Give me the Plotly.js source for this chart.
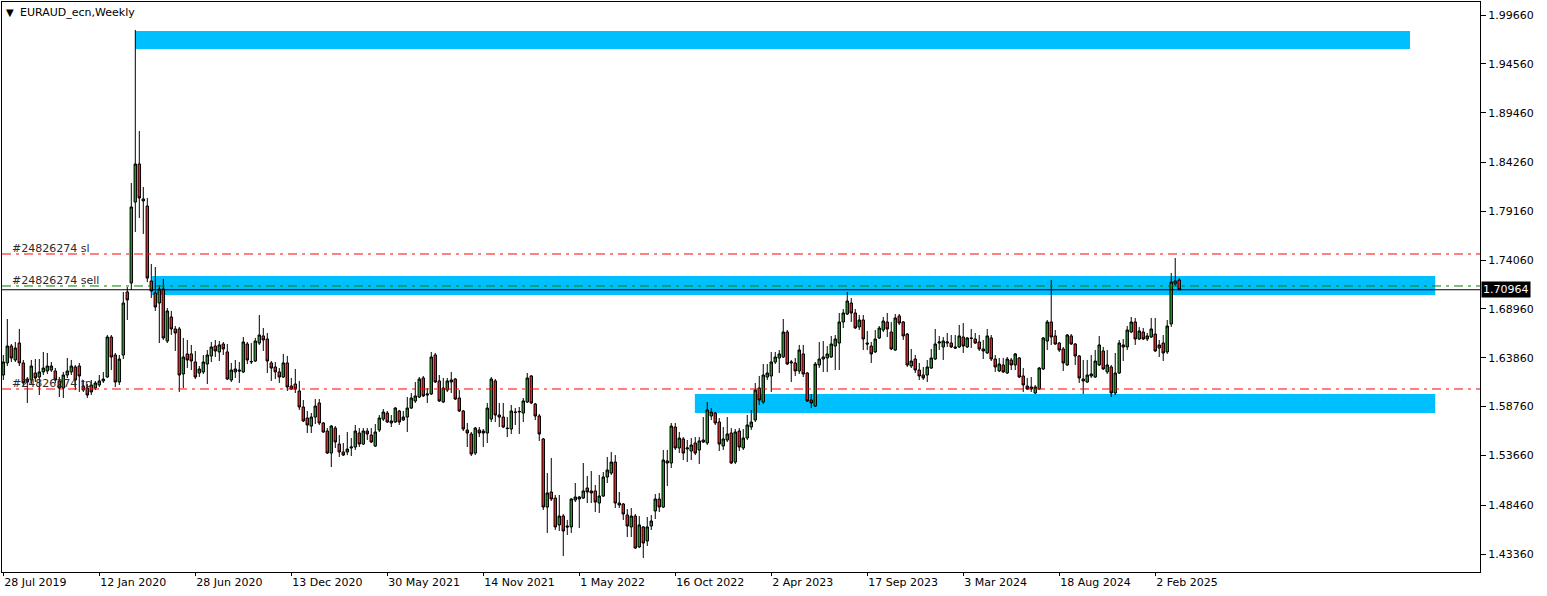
<!DOCTYPE html>
<html>
<head>
<meta charset="utf-8">
<script src="https://cdn.plot.ly/plotly-3.0.1.min.js"></script>
<style>
  html, body { margin: 0; padding: 0; background: #ffffff; }
  #chart { width: 1547px; height: 596px; }
</style>
</head>
<body>
<div id="chart"></div>
<script>
// ---- Data: EURAUD_ecn Weekly, one entry per week starting 28 Jul 2019 ----
const open = [
1.6206,1.6332,1.6509,1.6363,1.6540,1.6332,1.6164,1.6154,1.6227,1.6185,
1.6238,1.6248,1.6258,1.6248,1.6144,1.6070,1.6206,1.6238,1.6290,1.6300,
1.6091,1.6070,1.6102,1.6070,1.6102,1.6144,1.6185,1.6603,1.6415,1.6133,
1.6415,1.7073,1.7167,1.8013,1.8410,1.8045,1.7971,1.7188,1.7063,1.6958,
1.7104,1.6561,1.6812,1.6687,1.6687,1.6217,1.6426,1.6426,1.6342,1.6227,
1.6238,1.6321,1.6405,1.6509,1.6447,1.6530,1.6447,1.6154,1.6238,1.6258,
1.6238,1.6530,1.6342,1.6352,1.6540,1.6614,1.6582,1.6332,1.6290,1.6238,
1.6185,1.6332,1.6091,1.6112,1.6039,1.5872,1.5757,1.5673,1.5767,1.5914,
1.5705,1.5621,1.5391,1.5652,1.5485,1.5402,1.5402,1.5444,1.5454,1.5600,
1.5485,1.5621,1.5579,1.5464,1.5632,1.5746,1.5809,1.5726,1.5715,1.5830,
1.5736,1.5767,1.5861,1.5935,1.5976,1.6175,1.5997,1.6008,1.6415,1.6144,
1.5924,1.6049,1.6133,1.6164,1.5966,1.5830,1.5632,1.5590,1.5391,1.5632,
1.5621,1.5600,1.5746,1.6144,1.5788,1.5767,1.5652,1.5642,1.5820,1.5820,
1.5809,1.5924,1.6196,1.5903,1.5778,1.5538,1.4827,1.4984,1.4921,1.4640,
1.4733,1.4629,1.4619,1.4900,1.4911,1.4921,1.5026,1.4995,1.4995,1.4869,
1.4942,1.5141,1.5182,1.5297,1.4869,1.4859,1.4744,1.4619,1.4733,1.4410,
1.4619,1.4472,1.4629,1.4786,1.4911,1.4827,1.5308,1.5287,1.5663,1.5444,
1.5538,1.5433,1.5412,1.5496,1.5423,1.5527,1.5496,1.5778,1.5809,1.5715,
1.5464,1.5527,1.5600,1.5297,1.5621,1.5444,1.5548,1.5663,1.5736,1.6070,
1.5924,1.6185,1.6196,1.6342,1.6384,1.6394,1.6655,1.6332,1.6332,1.6248,
1.6426,1.6227,1.5945,1.5882,1.6311,1.6373,1.6384,1.6394,1.6509,1.6540,
1.6760,1.6843,1.6958,1.6854,1.6708,1.6781,1.6540,1.6509,1.6447,1.6593,
1.6676,1.6760,1.6655,1.6467,1.6823,1.6760,1.6634,1.6300,1.6373,1.6258,
1.6206,1.6206,1.6279,1.6373,1.6540,1.6499,1.6540,1.6540,1.6499,1.6499,
1.6603,1.6499,1.6593,1.6582,1.6551,1.6478,1.6436,1.6593,1.6373,1.6248,
1.6311,1.6227,1.6363,1.6311,1.6384,1.6196,1.6091,1.6081,1.6018,1.6060,
1.6269,1.6561,1.6760,1.6614,1.6540,1.6478,1.6311,1.6614,1.6530,1.6405,
1.6164,1.6133,1.6196,1.6185,1.6311,1.6457,1.6238,1.6290,1.6018,1.6227,
1.6499,1.6499,1.6655,1.6760,1.6582,1.6655,1.6582,1.6603,1.6634,1.6488,
1.6540,1.6447,1.6739,1.7157,1.7198
];
const high = [
1.6415,1.6791,1.6530,1.6551,1.6687,1.6363,1.6185,1.6363,1.6373,1.6373,
1.6447,1.6436,1.6342,1.6279,1.6185,1.6238,1.6384,1.6363,1.6311,1.6332,
1.6154,1.6112,1.6154,1.6144,1.6206,1.6238,1.6624,1.6624,1.6436,1.6415,
1.7073,1.7125,1.8212,1.9810,1.8755,1.8170,1.8055,1.7365,1.7334,1.7146,
1.7209,1.6906,1.6875,1.6718,1.6708,1.6593,1.6572,1.6520,1.6457,1.6300,
1.6415,1.6467,1.6551,1.6572,1.6561,1.6551,1.6530,1.6332,1.6363,1.6342,
1.6603,1.6551,1.6540,1.6593,1.6833,1.6697,1.6645,1.6352,1.6342,1.6279,
1.6426,1.6405,1.6175,1.6269,1.6144,1.5945,1.5830,1.5809,1.5955,1.5955,
1.5715,1.5652,1.5684,1.5673,1.5579,1.5496,1.5611,1.5548,1.5684,1.5652,
1.5652,1.5652,1.5652,1.5694,1.5788,1.5851,1.5830,1.5788,1.5872,1.5841,
1.5830,1.5976,1.6018,1.6133,1.6185,1.6196,1.6070,1.6447,1.6436,1.6206,
1.6175,1.6175,1.6238,1.6175,1.6049,1.5841,1.5705,1.5611,1.5663,1.5663,
1.5642,1.5914,1.6185,1.6164,1.5914,1.5914,1.5767,1.5893,1.5861,1.5872,
1.5966,1.6227,1.6206,1.5914,1.5799,1.5548,1.5182,1.5339,1.4953,1.4953,
1.4754,1.4692,1.4921,1.5078,1.4942,1.5287,1.5151,1.5203,1.5057,1.5162,
1.5193,1.5350,1.5402,1.5370,1.4984,1.4869,1.4806,1.4817,1.4754,1.4733,
1.4629,1.4723,1.4744,1.4963,1.4974,1.5423,1.5423,1.5705,1.5705,1.5611,
1.5558,1.5527,1.5548,1.5558,1.5558,1.5767,1.5924,1.5861,1.5820,1.5757,
1.5663,1.5767,1.5652,1.5642,1.5652,1.5642,1.5788,1.5841,1.6123,1.6196,
1.6321,1.6321,1.6447,1.6447,1.6467,1.6791,1.6676,1.6363,1.6384,1.6520,
1.6520,1.6238,1.6008,1.6342,1.6551,1.6561,1.6509,1.6614,1.6624,1.6854,
1.6895,1.7073,1.7010,1.6895,1.6833,1.6833,1.6666,1.6551,1.6676,1.6718,
1.6812,1.6854,1.6760,1.6843,1.6843,1.6770,1.6645,1.6478,1.6415,1.6332,
1.6290,1.6363,1.6478,1.6687,1.6614,1.6603,1.6645,1.6624,1.6624,1.6729,
1.6749,1.6603,1.6687,1.6645,1.6624,1.6572,1.6687,1.6624,1.6415,1.6384,
1.6384,1.6394,1.6384,1.6436,1.6394,1.6279,1.6175,1.6185,1.6102,1.6290,
1.6603,1.6781,1.7198,1.6676,1.6551,1.6499,1.6634,1.6634,1.6540,1.6415,
1.6363,1.6363,1.6415,1.6467,1.6614,1.6499,1.6467,1.6311,1.6436,1.6572,
1.6582,1.6718,1.6812,1.6802,1.6708,1.6697,1.6645,1.6802,1.6802,1.6572,
1.6624,1.6781,1.7272,1.7428,1.7219
];
const low = [
1.6154,1.6300,1.6342,1.6342,1.6300,1.6081,1.5914,1.6102,1.6133,1.5997,
1.6206,1.6217,1.6238,1.6123,1.5976,1.5966,1.6175,1.6206,1.6049,1.6029,
1.6029,1.5966,1.5997,1.6049,1.6081,1.6123,1.6175,1.6258,1.6081,1.6102,
1.6373,1.6781,1.7094,1.7700,1.7846,1.7679,1.7177,1.7010,1.6875,1.6540,
1.6572,1.6540,1.6624,1.6457,1.6029,1.6070,1.6279,1.6258,1.6164,1.6185,
1.6217,1.6112,1.6342,1.6394,1.6352,1.6415,1.6154,1.6133,1.6175,1.6123,
1.6227,1.6321,1.6321,1.6342,1.6520,1.6457,1.6227,1.6144,1.6164,1.6123,
1.6175,1.6039,1.6049,1.6018,1.5841,1.5715,1.5600,1.5600,1.5694,1.5684,
1.5600,1.5381,1.5245,1.5444,1.5350,1.5360,1.5370,1.5360,1.5423,1.5454,
1.5475,1.5527,1.5496,1.5454,1.5611,1.5726,1.5705,1.5663,1.5705,1.5684,
1.5726,1.5611,1.5851,1.5914,1.5966,1.5976,1.5914,1.5997,1.6123,1.5924,
1.5914,1.6029,1.6018,1.5945,1.5820,1.5621,1.5454,1.5360,1.5370,1.5558,
1.5454,1.5496,1.5715,1.5715,1.5663,1.5652,1.5558,1.5590,1.5684,1.5590,
1.5715,1.5914,1.5903,1.5736,1.5517,1.4796,1.4556,1.4890,1.4587,1.4577,
1.4316,1.4535,1.4556,1.4879,1.4608,1.4911,1.4869,1.4869,1.4775,1.4765,
1.4932,1.5078,1.5162,1.4817,1.4817,1.4692,1.4514,1.4514,1.4389,1.4399,
1.4295,1.4420,1.4587,1.4702,1.4775,1.4817,1.5047,1.5235,1.5423,1.5391,
1.5318,1.5297,1.5318,1.5370,1.5276,1.5496,1.5475,1.5736,1.5684,1.5412,
1.5423,1.5506,1.5276,1.5276,1.5412,1.5423,1.5527,1.5632,1.5715,1.5893,
1.5903,1.6154,1.6029,1.6321,1.6227,1.6384,1.6311,1.6133,1.6196,1.6217,
1.6185,1.5924,1.5861,1.5872,1.6279,1.6238,1.6238,1.6384,1.6258,1.6258,
1.6697,1.6833,1.6760,1.6687,1.6676,1.6467,1.6467,1.6332,1.6436,1.6582,
1.6655,1.6603,1.6467,1.6457,1.6729,1.6572,1.6290,1.6279,1.6227,1.6154,
1.6154,1.6133,1.6269,1.6363,1.6467,1.6363,1.6499,1.6488,1.6478,1.6488,
1.6436,1.6488,1.6488,1.6530,1.6457,1.6373,1.6426,1.6352,1.6238,1.6238,
1.6227,1.6217,1.6258,1.6258,1.6175,1.6029,1.6049,1.6029,1.6008,1.6049,
1.6258,1.6467,1.6520,1.6520,1.6447,1.6248,1.6300,1.6520,1.6311,1.6123,
1.6008,1.6123,1.6175,1.6175,1.6300,1.6258,1.6217,1.5976,1.5997,1.6217,
1.6352,1.6467,1.6645,1.6520,1.6572,1.6572,1.6561,1.6593,1.6447,1.6394,
1.6352,1.6426,1.6708,1.7136,1.7094
];
const close = [
1.6342,1.6509,1.6384,1.6488,1.6332,1.6123,1.6133,1.6300,1.6175,1.6238,
1.6279,1.6300,1.6300,1.6154,1.6070,1.6206,1.6248,1.6300,1.6154,1.6196,
1.6049,1.5997,1.6029,1.6123,1.6144,1.6164,1.6603,1.6394,1.6133,1.6373,
1.6958,1.6990,1.7961,1.8410,1.8055,1.8024,1.7219,1.7083,1.6916,1.7104,
1.6593,1.6875,1.6687,1.6645,1.6206,1.6394,1.6363,1.6352,1.6185,1.6269,
1.6342,1.6415,1.6499,1.6457,1.6520,1.6478,1.6164,1.6258,1.6269,1.6248,
1.6551,1.6363,1.6347,1.6561,1.6624,1.6572,1.6352,1.6279,1.6238,1.6185,
1.6332,1.6081,1.6060,1.6060,1.5872,1.5726,1.5684,1.5767,1.5882,1.5705,
1.5611,1.5391,1.5673,1.5506,1.5402,1.5370,1.5433,1.5454,1.5621,1.5485,
1.5621,1.5590,1.5506,1.5611,1.5757,1.5820,1.5715,1.5705,1.5861,1.5715,
1.5767,1.5861,1.5966,1.5987,1.6164,1.5987,1.6008,1.6394,1.6133,1.5935,
1.6070,1.6144,1.6154,1.5955,1.5830,1.5642,1.5600,1.5381,1.5652,1.5600,
1.5600,1.5861,1.6164,1.5788,1.5767,1.5663,1.5647,1.5830,1.5815,1.5825,
1.5935,1.6175,1.5914,1.5778,1.5590,1.4827,1.4974,1.4911,1.4619,1.4733,
1.4577,1.4619,1.4911,1.4932,1.4932,1.4995,1.4984,1.4974,1.4879,1.4942,
1.5141,1.5214,1.5297,1.4869,1.4848,1.4754,1.4629,1.4733,1.4399,1.4640,
1.4451,1.4619,1.4681,1.4911,1.4827,1.5318,1.5287,1.5673,1.5444,1.5548,
1.5391,1.5444,1.5475,1.5391,1.5517,1.5506,1.5841,1.5820,1.5705,1.5485,
1.5538,1.5590,1.5287,1.5611,1.5454,1.5548,1.5684,1.5715,1.6049,1.5945,
1.6206,1.6227,1.6342,1.6394,1.6426,1.6655,1.6321,1.6342,1.6248,1.6467,
1.6217,1.5935,1.5914,1.6321,1.6373,1.6394,1.6426,1.6530,1.6582,1.6760,
1.6854,1.6979,1.6854,1.6697,1.6781,1.6582,1.6530,1.6426,1.6582,1.6697,
1.6770,1.6687,1.6478,1.6802,1.6749,1.6614,1.6311,1.6352,1.6258,1.6196,
1.6175,1.6290,1.6384,1.6530,1.6551,1.6561,1.6551,1.6499,1.6488,1.6614,
1.6509,1.6593,1.6588,1.6540,1.6478,1.6457,1.6614,1.6373,1.6290,1.6321,
1.6238,1.6373,1.6311,1.6426,1.6185,1.6102,1.6060,1.6060,1.6081,1.6279,
1.6593,1.6760,1.6603,1.6530,1.6467,1.6332,1.6624,1.6530,1.6405,1.6175,
1.6144,1.6206,1.6217,1.6352,1.6520,1.6269,1.6311,1.6018,1.6227,1.6540,
1.6520,1.6676,1.6760,1.6582,1.6666,1.6582,1.6614,1.6687,1.6457,1.6520,
1.6436,1.6718,1.7177,1.7188,1.70964
];

// Time-scale labels (every 24 weeks) and price-scale labels
const dateLabels = ["28 Jul 2019","12 Jan 2020","28 Jun 2020","13 Dec 2020","30 May 2021",
  "14 Nov 2021","1 May 2022","16 Oct 2022","2 Apr 2023","17 Sep 2023","3 Mar 2024",
  "18 Aug 2024","2 Feb 2025"];
const priceLabels = [1.99660,1.94560,1.89460,1.84260,1.79160,1.74060,1.68960,
  1.63860,1.58760,1.53660,1.48460,1.43360];

// Order levels and zones
const orderId = "#24826274";
const bidPrice = 1.70964;
const slPrice = 1.7470;
const sellPrice = 1.7136;
const tpPrice = 1.6060;
const zoneStart = [33, 37.2, 172.9];
const zoneEnd   = [351.7, 358, 358];
const zoneTop   = [1.9799, 1.7240, 1.6008];
const zoneBot   = [1.9611, 1.7042, 1.5810];

// ---- build ----
const idx = open.map((_, i) => i);
const tickIdx = dateLabels.map((_, k) => k * 24);
const FONT = "DejaVu Sans, Verdana, sans-serif";

const trace = {
  type: "candlestick",
  x: idx, open: open, high: high, low: low, close: close,
  increasing: { line: { color: "#000000", width: 1 }, fillcolor: "#1f9c1f" },
  decreasing: { line: { color: "#000000", width: 1 }, fillcolor: "#ff1a1a" },
  whiskerwidth: 0,
  hoverinfo: "skip",
  showlegend: false
};

const shapes = [];
for (let k = 0; k < zoneStart.length; k++) {
  shapes.push({ type: "rect", xref: "x", yref: "y", layer: "below",
    x0: zoneStart[k], x1: zoneEnd[k], y0: zoneBot[k], y1: zoneTop[k],
    fillcolor: "#00bfff", line: { width: 0 } });
}
const hline = (y, color, dash, w) => ({ type: "line", xref: "paper", yref: "y",
  x0: 0, x1: 1, y0: y, y1: y, layer: "above", line: { color: color, width: w, dash: dash } });
shapes.push(hline(slPrice, "#ff0000", "9px,5px,3px,5px", 1));
shapes.push(hline(tpPrice, "#ff0000", "9px,5px,3px,5px", 1));
shapes.push(hline(sellPrice, "#008000", "9px,5px,3px,5px", 1));
shapes.push(hline(bidPrice, "#000000", "solid", 1));

const plotL = 2, plotR = 1480, plotT = 2, plotB = 572;
const px = (x) => (x - plotL) / (plotR - plotL);
const py = (y) => 1 - (y - plotT) / (plotB - plotT);

const annotations = [
  { xref: "paper", yref: "paper", x: px(4), y: py(12), xanchor: "left", yanchor: "middle",
    text: "▼", showarrow: false, font: { family: FONT, size: 10, color: "#000" } },
  { xref: "paper", yref: "paper", x: px(18), y: py(12), xanchor: "left", yanchor: "middle",
    text: "EURAUD_ecn,Weekly", showarrow: false, font: { family: FONT, size: 11, color: "#000" } },
  { xref: "paper", yref: "y", x: px(10), y: slPrice, xanchor: "left", yanchor: "bottom",
    yshift: -3, text: orderId + " sl", showarrow: false, font: { family: FONT, size: 11, color: "#2b2b2b" } },
  { xref: "paper", yref: "y", x: px(10), y: sellPrice, xanchor: "left", yanchor: "bottom",
    yshift: -3, text: orderId + " sell", showarrow: false, font: { family: FONT, size: 11, color: "#2b2b2b" } },
  { xref: "paper", yref: "y", x: px(10), y: tpPrice, xanchor: "left", yanchor: "bottom",
    yshift: -3, text: orderId + " tp", showarrow: false, font: { family: FONT, size: 11, color: "#2b2b2b" } },
  { xref: "paper", yref: "y", x: 1, y: bidPrice, xanchor: "left", yanchor: "middle",
    xshift: 1, text: bidPrice.toFixed(5), showarrow: false, bgcolor: "#000000",
    borderpad: 1, font: { family: FONT, size: 11, color: "#ffffff" } }
];

const layout = {
  width: 1547, height: 596,
  margin: { l: plotL, r: 1547 - plotR, t: plotT, b: 596 - plotB },
  paper_bgcolor: "#ffffff", plot_bgcolor: "#ffffff",
  showlegend: false,
  boxgap: 0.12,
  xaxis: {
    type: "linear", range: [-0.33, 369.2], fixedrange: true,
    rangeslider: { visible: false },
    tickmode: "array", tickvals: tickIdx, ticktext: dateLabels,
    ticklabelposition: "outside right",
    ticks: "outside", ticklen: 3, tickcolor: "#000",
    showgrid: false, zeroline: false,
    showline: true, linecolor: "#000", linewidth: 1, mirror: true,
    tickfont: { family: FONT, size: 11, color: "#000" }
  },
  yaxis: {
    side: "right", range: [1.41485, 2.0102], fixedrange: true,
    tickmode: "array", tickvals: priceLabels,
    ticktext: priceLabels.map(v => v.toFixed(5)),
    ticks: "outside", ticklen: 5, tickcolor: "#000",
    showgrid: false, zeroline: false,
    showline: true, linecolor: "#000", linewidth: 1, mirror: true,
    tickfont: { family: FONT, size: 11, color: "#000" }
  },
  shapes: shapes,
  annotations: annotations
};

Plotly.newPlot("chart", [trace], layout, { staticPlot: true, displayModeBar: false });
</script>
</body>
</html>
